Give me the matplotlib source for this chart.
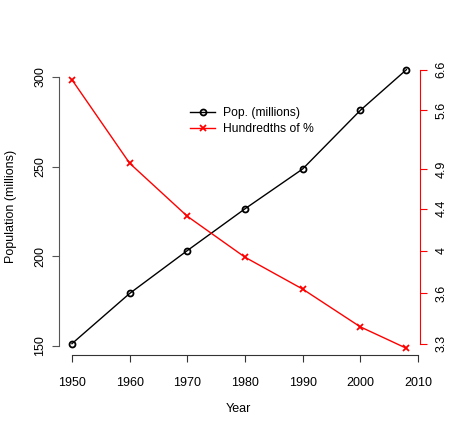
import matplotlib.pyplot as plt

plt.rcParams['font.family'] = ['Liberation Sans', 'DejaVu Sans']

years = [1950, 1960, 1970, 1980, 1990, 2000, 2008]
pop = [151.3, 179.3, 203.2, 226.5, 248.7, 281.4, 304.1]
hundredths = [1000 / p for p in pop]
# right axis labels as they appear (placed at the pop heights)
right_labels = ["3.3", "3.6", "4", "4.4", "4.9", "5.6", "6.6"]
x_ticks = [1950, 1960, 1970, 1980, 1990, 2000, 2010]
y_ticks = [150, 200, 250, 300]
red_lim = (3.21, 6.87)


def pad4(v):
    lo, hi = min(v), max(v)
    d = (hi - lo) * 0.04
    return lo - d, hi + d


fig = plt.figure(figsize=(4.5, 4.3), dpi=100)
ax = fig.add_axes([0.1302, 0.1753, 0.8027, 0.6882])

ax.plot(years, pop, color='black', lw=1.0, marker='o', ms=4.3, mfc='none',
        mew=1.3, label='Pop. (millions)')
ax.set_xlim(*pad4(years))
ax.set_ylim(*pad4(pop))
ax.set_xticks(x_ticks)
ax.set_yticks(y_ticks)
ax.set_yticklabels([str(t) for t in y_ticks], rotation=90, va='center')
for s in ['top', 'right']:
    ax.spines[s].set_visible(False)
ax.spines['left'].set_bounds(150, 300)
ax.spines['bottom'].set_bounds(1950, 2010)
ax.spines['left'].set_color('#555555')
ax.spines['bottom'].set_color('#333333')
ax.tick_params(axis='x', length=5, pad=11, labelsize=9, color='#333333')
ax.tick_params(axis='y', length=5, pad=4, labelsize=9, color='#555555')

# right axis: ticks at the population heights
ax2 = ax.twinx()
ax2.set_ylim(ax.get_ylim())
ax2.set_yticks(pop)
ax2.set_yticklabels(right_labels, rotation=90, va='center')
for s in ['top', 'left', 'bottom']:
    ax2.spines[s].set_visible(False)
ax2.spines['right'].set_color('red')
ax2.spines['right'].set_bounds(min(pop), max(pop))
ax2.tick_params(axis='y', colors='red', labelcolor='black', length=5,
                pad=6.5, labelsize=9)

# red series on its own scale
ax3 = ax.twinx()
ax3.plot(years, hundredths, color='red', lw=1.0, marker='x', ms=5,
         mew=1.3, label='Hundredths of %')
ax3.set_ylim(*red_lim)
ax3.axis('off')

h1, l1 = ax.get_legend_handles_labels()
h3, l3 = ax3.get_legend_handles_labels()
ax3.legend(h1 + h3, l1 + l3, loc='upper left', bbox_to_anchor=(0.365, 0.836),
           frameon=False, borderaxespad=0, borderpad=0, fontsize=8.7,
           handlelength=2.0, handletextpad=0.7, labelspacing=0.35)

fig.text(11 / 450, 1 - 206 / 430, 'Population (millions)', rotation=90,
         ha='center', va='center', fontsize=9)
fig.text(238 / 450, 1 - 409 / 430, 'Year', ha='center', va='center',
         fontsize=9)

fig.savefig('out.png', dpi=100)
